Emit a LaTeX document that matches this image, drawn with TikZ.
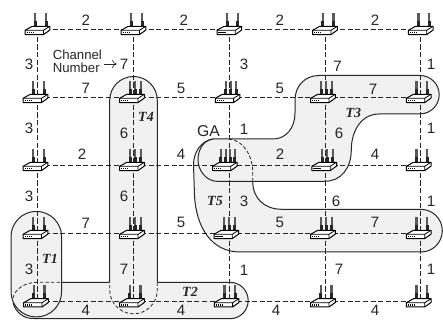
\documentclass[tikz,border=0pt]{standalone}
\usepackage{fontspec}
\setmainfont{Liberation Sans}
\newfontfamily\tfont{Liberation Serif}
\usetikzlibrary{arrows.meta}
\definecolor{ink}{gray}{0.15}
\definecolor{shade}{gray}{0.945}
\tikzset{x=0.75pt,y=-0.75pt,
 link/.style={draw=ink,dash pattern=on 3.8pt off 1.9pt,line width=0.7pt},
 treeline/.style={draw=ink,line width=0.75pt},
 treefill/.style={fill=shade,draw=none},
 treedash/.style={draw=ink,dash pattern=on 2.6pt off 1.6pt,line width=0.6pt},
 lab/.style={font=\fontsize{11.3}{12}\selectfont,inner sep=0pt,text=ink},
 tlab/.style={font=\tfont\bfseries\itshape\fontsize{10.5}{10.5}\selectfont,inner sep=0pt,text=ink},
 dev/.style={inner sep=0pt,minimum width=19pt,minimum height=6pt},
}
\newcommand{\antenna}[1]{\fill[black!85] (#1-1.5,-2) rectangle (#1+1.5,-8.5);\fill[black!65] (#1-1.1,-8.5) rectangle (#1+1.1,-16.5);}
\newcommand{\routerpic}[3]{% node, antennas, offset
 \begin{scope}[shift={(#1.center)},xshift=#3*0.75pt]
  \ifnum#2=2
   \foreach \xx in {-2.2,8.5} {\antenna{\xx}}
  \fi
  \ifnum#2=3
   \foreach \xx in {-2,3,8.6} {\antenna{\xx}}
  \fi
  \ifnum#2=4
   \foreach \xx in {-4,1,5.3,10} {\antenna{\xx}}
  \fi
  \draw[fill=white,draw=black,line width=0.75pt,line join=round] (-12.3,1) -- (-5.3,-3) -- (12.3,-3) -- (12.3,0.8) -- (6,5.3) -- (-12.3,5.3) -- cycle;
  \draw[draw=black,line width=0.6pt] (-12.3,1) -- (6,1) -- (12.3,-3) (6,1) -- (6,5.3);
  \foreach \dd in {-10.3,-8.3,-6.3,-4.3} \fill[black] (\dd-.65,2.4) rectangle (\dd+.65,4.2);
 \end{scope}}
\begin{document}
\begin{tikzpicture}
\useasboundingbox (0,0) rectangle (443,320);
% routers' places
\foreach \n/\x/\y in {
 a1/37.5/29.3,b1/133.5/29.3,c1/229.3/29.3,d1/325/29.3,e1/420.7/29.3,
 a2/37.5/97.3,b2/133.5/97.3,c2/229.3/97.3,d2/325/97.3,e2/420.7/97.3,
 a3/37.5/165.3,b3/133.5/165.3,c3/229.3/165.3,d3/325/165.3,e3/420.7/165.3,
 a4/37.5/233.3,b4/133.5/233.3,c4/229.3/233.3,d4/325/233.3,e4/420.7/233.3,
 a5/37.5/301.7,b5/133.5/301.7,c5/229.3/301.7,d5/325/301.7,e5/420.7/301.7}
 \node[dev] (\n) at (\x,\y) {};
% T2
\path[treefill] (37,282.3) -- (230,282.3) arc[start angle=270,end angle=450,radius=18.2] -- (33,318.5)
  .. controls (22,318.5) and (15,312) .. (12.5,300) .. controls (14,290) and (24,282.3) .. (37,282.3) -- cycle;
\draw[treeline] (61.7,282.3) -- (109.7,282.3) (157.3,282.3) -- (230,282.3) arc[start angle=270,end angle=450,radius=18.2] -- (33,318.5)
  .. controls (24,318.5) and (16,313) .. (13,303);
% T4
\path[treefill] (109.7,282.3) -- (109.7,100.3) arc[start angle=180,end angle=360,radius=23.8] -- (157.3,290)
  arc[start angle=0,end angle=180,radius=23.8] -- cycle;
\draw[treeline] (109.7,282.3) -- (109.7,100.3) arc[start angle=180,end angle=360,radius=23.8] -- (157.3,282.3);
\draw[treedash] (157.3,282.3) -- (157.3,290) arc[start angle=0,end angle=180,radius=23.8] -- (109.7,282.3);
% T1
\draw[treeline,fill=shade] (11,236.7) arc[start angle=180,end angle=360,radius=25.3] -- (61.6,291.7) arc[start angle=0,end angle=180,radius=25.3] -- cycle;
\draw[treedash] (13,298) .. controls (15,289) and (25,282.3) .. (37,282.3) -- (61.6,282.3);
% T5 fill
\path[treefill] (213,139) .. controls (201,141) and (193.5,152) .. (193.5,165)
  -- (194.5,195) .. controls (196,228) and (212,252) .. (240,252)
  -- (421,252) arc[start angle=90,end angle=-90,radius=21.3]
  -- (282,209.3) .. controls (264,209.3) and (252.7,198) .. (252.7,180)
  -- (252.7,170) .. controls (252,155) and (243,140) .. (229,139) -- cycle;
% T3
\draw[treeline,fill=shade] (213,139) -- (273,139) .. controls (286,139) and (295,128) .. (295,113)
  -- (295,100) .. controls (295,86) and (305,75.5) .. (319,75.5) -- (420,75.5)
  arc[start angle=270,end angle=450,radius=19.2] -- (379,114)
  .. controls (362,114) and (351.3,130) .. (351.3,150)
  .. controls (351.3,168) and (341,181.3) .. (325,181.3) -- (217,181.3)
  .. controls (206,181.3) and (198,170) .. (198,160)
  .. controls (198,149) and (204,140) .. (213,139) -- cycle;
% T5 outline
\draw[treeline] (213,139) .. controls (201,141) and (193.5,152) .. (193.5,165)
  -- (194.5,195) .. controls (196,228) and (212,252) .. (240,252)
  -- (421,252) arc[start angle=90,end angle=-90,radius=21.3]
  -- (282,209.3) .. controls (264,209.3) and (252.7,198) .. (252.7,181.3);
\draw[treedash] (252.7,181.3) -- (252.7,170) .. controls (252,155) and (243,140) .. (229,139);
% links
\foreach \p/\q in {a1/b1,b1/c1,c1/d1,d1/e1,a2/b2,b2/c2,c2/d2,d2/e2,a3/b3,b3/c3,c3/d3,d3/e3,a4/b4,b4/c4,c4/d4,d4/e4,a5/b5,b5/c5,c5/d5,d5/e5}
 \draw[link] (\p.center) -- (\q.center);
\foreach \p/\q in {a1/a2,a2/a3,a3/a4,a4/a5,b1/b2,b2/b3,b3/b4,b4/b5,c1/c2,c2/c3,c3/c4,c4/c5,d1/d2,d2/d3,d3/d4,d4/d5,e1/e2,e2/e3,e3/e4,e4/e5}
 \draw[link] (\p.center) -- (\q.center);
% routers
\routerpic{a1}{2}{0}\routerpic{b1}{2}{0}\routerpic{c1}{2}{0}\routerpic{d1}{2}{0}\routerpic{e1}{2}{0}
\routerpic{a2}{2}{-2}\routerpic{b2}{3}{-1.5}\routerpic{c2}{3}{-1.7}\routerpic{d2}{3}{-2}\routerpic{e2}{2}{-2}
\routerpic{a3}{2}{-2}\routerpic{b3}{3}{-1.5}\routerpic{c3}{4}{-4.5}\routerpic{d3}{3}{-0.8}\routerpic{e3}{2}{-2}
\routerpic{a4}{2}{-2}\routerpic{b4}{3}{-1.5}\routerpic{c4}{3}{-3}\routerpic{d4}{3}{-2}\routerpic{e4}{2}{-2}
\routerpic{a5}{2}{-1.5}\routerpic{b5}{2}{-1.5}\routerpic{c5}{2}{-2.7}\routerpic{d5}{2}{-2}\routerpic{e5}{2}{-2}
% labels
\foreach \x/\y/\t in {85.7/20.3/2,183.7/20.3/2,279.7/20.3/2,375/20.3/2,
 85.7/88.7/7,181/88.7/5,279.7/88.7/5,373/89/7,
 82/154/2,181/154/4,280/154/2,375/154/4,
 85.7/223/7,181/222.5/5,279.7/222.5/5,375/222.5/7,
 85.7/310/4,181/310/4,276/310/4,375/310/4,
 29/64/3,29/128/3,29/196/3,29/269/3,
 124/64/7,124/133/6,124/196/6,124/269/7,
 244/64/3,244/129/1,244/201/3,244/270/1,
 337.5/66/7,339/133/6,336/201/6,339/269/7,
 431/64/1,431/128/1,431/201/1,431/269/1}
 \node[lab] at (\x,\y) {\t};
\node[lab,font=\fontsize{9.9}{9.75}\selectfont,align=left,anchor=west] (cn) at (52.5,61.5) {Channel\\Number};
\coordinate (cna) at (104.3,64);\coordinate (cnb) at (116.7,64);
\draw[ink,line width=0.45pt,-{To[length=3.5pt,width=6pt]}] (cna) -- (cnb);
\node[lab,font=\fontsize{11.8}{12}\selectfont] (ga) at (208.5,131) {GA};
\node[tlab] (t4) at (146,117) {T4};
\node[tlab] (t3) at (353.3,113) {T3};
\node[tlab] (t5) at (215,200.7) {T5};
\node[tlab] (t1) at (50,259) {T1};
\node[tlab] (t2) at (190,291.7) {T2};
\end{tikzpicture}
\end{document}
